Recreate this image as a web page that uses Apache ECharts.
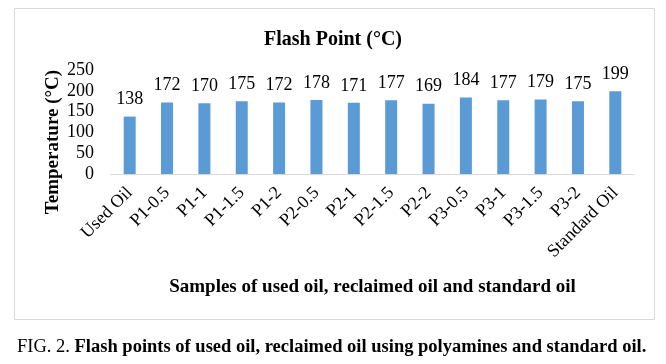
<!DOCTYPE html>
<html>
<head>
<meta charset="utf-8">
<script src="https://cdn.jsdelivr.net/npm/echarts@6/dist/echarts.min.js"></script>
<style>
html,body{margin:0;padding:0;background:#fff;}
#c{width:666px;height:364px;}
</style>
</head>
<body>
<div id="c"></div>
<script>
const categories = ["Used Oil","P1-0.5","P1-1","P1-1.5","P1-2","P2-0.5","P2-1","P2-1.5","P2-2","P3-0.5","P3-1","P3-1.5","P3-2","Standard Oil"];
const flashPoints = [138,172,170,175,172,178,171,177,169,184,177,179,175,199];
const yTicks = {min:0, max:250, interval:50};
const chartTitle = "Flash Point (°C)";
const yTitle = "Temperature (°C)";
const xTitle = "Samples of used oil, reclaimed oil and standard oil";
const captionLead = "FIG. 2. ";
const captionBody = "Flash points of used oil, reclaimed oil using polyamines and standard oil.";

const serif = "'Liberation Serif','Times New Roman',serif";
const chart = echarts.init(document.getElementById('c'));
chart.setOption({
  animation:false,
  backgroundColor:'#fff',
  title:[
    {text:chartTitle, left:'center', top:25, textStyle:{fontFamily:serif,fontWeight:'bold',fontSize:20,color:'#000'}},
    {text:'{n|'+captionLead+'}{b|'+captionBody+'}', left:12, top:333,
     textStyle:{fontWeight:'normal',rich:{n:{fontFamily:serif,fontSize:18.5,fontWeight:'normal',color:'#000'},b:{fontFamily:serif,fontSize:18.5,fontWeight:'bold',color:'#000'}}}}
  ],
  graphic:[
    {type:'rect', shape:{x:14.5,y:8.5,width:640,height:311}, style:{fill:'none',stroke:'#d9d9d9',lineWidth:1}, z:-1},
    {type:'text', x:53, y:142, rotation:Math.PI/2,
     style:{text:yTitle, fontFamily:serif, fontWeight:'bold', fontSize:19, fill:'#000', align:'center', verticalAlign:'middle'}}
  ],
  grid:{left:111, right:32, top:70, bottom:190},
  xAxis:{
    type:'category', data:categories,
    name:xTitle, nameLocation:'middle', nameGap:104,
    nameTextStyle:{fontFamily:serif,fontWeight:'bold',fontSize:19,color:'#000'},
    axisLine:{lineStyle:{color:'#d9d9d9',width:1}},
    axisTick:{show:false},
    axisLabel:{rotate:45, margin:16, fontFamily:serif, fontSize:18, color:'#000', interval:0}
  },
  yAxis:{
    type:'value', min:yTicks.min, max:yTicks.max, interval:yTicks.interval,
    axisLine:{show:false}, axisTick:{show:false}, splitLine:{show:false},
    axisLabel:{margin:17, fontFamily:serif, fontSize:18, color:'#000'}
  },
  series:[{
    type:'bar', data:flashPoints, barWidth:12,
    itemStyle:{color:'#5b9bd5'},
    label:{show:true, position:'top', distance:8, fontFamily:serif, fontSize:18, color:'#000'}
  }]
});
</script>
</body>
</html>
